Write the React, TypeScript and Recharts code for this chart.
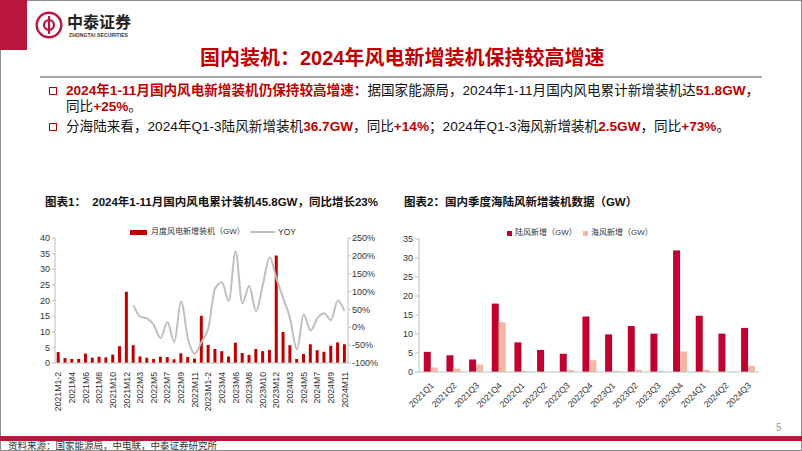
import React from "react";
import { ComposedChart, BarChart, Bar, Line, XAxis, YAxis } from "recharts";

// ---------- Chart 1 data ----------
const monthLabels = [
  "2021M1-2", "2021M3", "2021M4", "2021M5", "2021M6", "2021M7", "2021M8", "2021M9", "2021M10", "2021M11", "2021M12",
  "2022M1-2", "2022M3", "2022M4", "2022M5", "2022M6", "2022M7", "2022M8", "2022M9", "2022M10", "2022M11", "2022M12",
  "2023M1-2", "2023M3", "2023M4", "2023M5", "2023M6", "2023M7", "2023M8", "2023M9", "2023M10", "2023M11", "2023M12",
  "2024M1-2", "2024M3", "2024M4", "2024M5", "2024M6", "2024M7", "2024M8", "2024M9", "2024M10", "2024M11",
];
const monthlyAdds = [
  3.5, 1.6, 1.3, 1.3, 3.0, 1.7, 2.0, 1.8, 2.7, 5.4, 22.8,
  5.7, 2.1, 1.7, 1.3, 2.0, 1.9, 1.2, 3.1, 1.9, 1.4, 15.1,
  5.8, 4.5, 3.8, 2.1, 6.5, 3.2, 2.6, 4.5, 3.8, 4.2, 34.4,
  9.9, 5.7, 1.3, 2.9, 6.0, 4.1, 3.6, 5.5, 6.6, 6.0,
];
const yoyPct: (number | null)[] = [
  null, null, null, null, null, null, null, null, null, null, null,
  62, 30, 25, 6, -30, 15, -41, 72, -31, -74, -41,
  -3, 109, 126, 74, 212, 67, 116, 45, 119, 196, 137,
  81, 25, -62, 36, -9, 25, 39, 20, 75, 45,
];
const leftTicks = [0, 5, 10, 15, 20, 25, 30, 35, 40];
const rightTicks = [-100, -50, 0, 50, 100, 150, 200, 250];

// ---------- Chart 2 data ----------
const quarterLabels = [
  "2021Q1", "2021Q2", "2021Q3", "2021Q4", "2022Q1", "2022Q2", "2022Q3", "2022Q4",
  "2023Q1", "2023Q2", "2023Q3", "2023Q4", "2024Q1", "2024Q2", "2024Q3",
];
const onshoreAdds = [5.3, 4.4, 3.3, 18.0, 7.8, 5.8, 4.8, 14.6, 9.9, 12.1, 10.1, 32.0, 14.8, 10.1, 11.6];
const offshoreAdds = [1.2, 0.9, 2.0, 13.1, 0.2, 0.0, 0.5, 3.1, 0.3, 0.6, 0.3, 5.4, 0.6, 0.0, 1.6];
const q2Ticks = [0, 5, 10, 15, 20, 25, 30, 35];

const monthData = monthLabels.map((m, i) => ({ m, adds: monthlyAdds[i], yoy: yoyPct[i] }));
const quarterData = quarterLabels.map((q, i) => ({ q, on: onshoreAdds[i], off: offshoreAdds[i] }));

const RED = "#B8163C";
const FONT = "'Liberation Sans', Arial, 'Noto Sans CJK SC', sans-serif";
const tickStyle = { fontSize: 9, fill: "#333", fontFamily: FONT };

const MonthTick = (props: any) => {
  const { x, y, payload } = props;
  const ty = y + 1;
  return (
    <text x={x} y={ty} transform={`rotate(-90 ${x} ${ty})`} textAnchor="end" dominantBaseline="central"
      fontSize={8.7} fill="#333" fontFamily={FONT}>
      {payload.value}
    </text>
  );
};

const QuarterTick = (props: any) => {
  const { x, y, payload } = props;
  const tx = x + 2;
  const ty = y + 4;
  return (
    <text x={tx} y={ty} transform={`rotate(-45 ${tx} ${ty})`} textAnchor="end" dominantBaseline="central"
      fontSize={8.7} fill="#333" fontFamily={FONT}>
      {payload.value}
    </text>
  );
};

const abs = (l: number, t: number, extra: any = {}) => ({ position: "absolute" as const, left: l, top: t, ...extra });

const R = ({ children }: any) => <span style={{ color: "#C00000", fontWeight: 700 }}>{children}</span>;

export default function App() {
  return (
    <div style={{ position: "absolute", left: 0, top: 0, width: 802, height: 451, background: "#fff", overflow: "hidden", fontFamily: FONT }}>
      {/* slide border */}
      <div style={abs(0, 0, { width: 800, height: 449, border: "1px solid #8c8c8c" })} />
      {/* left red block */}
      <div style={abs(0, 0, { width: 27, height: 50, background: RED })} />
      {/* logo */}
      <svg style={abs(35, 11)} width={28} height={28} viewBox="0 0 28 28">
        <circle cx={14} cy={14} r={12.3} fill="#fff" stroke={RED} strokeWidth={2.4} />
        <path d="M14 5 V23" stroke={RED} strokeWidth={2.2} />
        <path d="M14 9 a5 5 0 1 0 0 10" fill="none" stroke={RED} strokeWidth={2.2} />
        <path d="M14 9 a5 5 0 1 1 0 10" fill="none" stroke={RED} strokeWidth={2.2} />
      </svg>
      <div style={abs(67, 12, { fontSize: 16, fontWeight: 700, color: "#222", fontFamily: "'Noto Sans CJK SC', sans-serif", lineHeight: "18px", height: 18, whiteSpace: "nowrap" })}>中泰证券</div>
      <div style={abs(69, 32, { fontSize: 5, fontWeight: 700, color: "#333", lineHeight: "6px", whiteSpace: "nowrap", letterSpacing: 0.1 })}>ZHONGTAI SECURITIES</div>

      {/* main title */}
      <div style={abs(200, 46, { fontSize: 20, fontWeight: 700, color: "#C00000", lineHeight: "24px", whiteSpace: "nowrap" })}>
        国内装机：2024年风电新增装机保持较高增速
      </div>
      <div style={abs(40, 76, { width: 722, height: 1.5, background: "#A6A6A6" })} />

      {/* bullets */}
      <div style={abs(49, 87, { width: 6, height: 6, border: "1.5px solid #C00000" })} />
      <div style={abs(49, 123, { width: 6, height: 6, border: "1.5px solid #C00000" })} />
      <div style={abs(66, 83, { fontSize: 13.6, lineHeight: "16px", color: "#111", whiteSpace: "nowrap" })}>
        <R>2024年1-11月国内风电新增装机仍保持较高增速：</R>据国家能源局，2024年1-11月国内风电累计新增装机达<R>51.8GW</R>，
      </div>
      <div style={abs(66, 99, { fontSize: 13.6, lineHeight: "16px", color: "#111", whiteSpace: "nowrap" })}>
        同比<R>+25%</R>。
      </div>
      <div style={abs(66, 119, { fontSize: 13.6, lineHeight: "16px", color: "#111", whiteSpace: "nowrap" })}>
        分海陆来看，2024年Q1-3陆风新增装机<R>36.7GW</R>，同比<R>+14%</R>；2024年Q1-3海风新增装机<R>2.5GW</R>，同比<R>+73%</R>。
      </div>

      {/* chart titles */}
      <div style={abs(45, 195, { fontSize: 11.5, fontWeight: 700, color: "#111", lineHeight: "14px", whiteSpace: "nowrap" })}>
        图表1：&nbsp;&nbsp;2024年1-11月国内风电累计装机45.8GW，同比增长23%
      </div>
      <div style={abs(404, 195, { fontSize: 11.5, fontWeight: 700, color: "#111", lineHeight: "14px", whiteSpace: "nowrap" })}>
        图表2：国内季度海陆风新增装机数据（GW）
      </div>

      {/* legend chart 1 */}
      <div style={abs(130, 230, { width: 17, height: 5, background: "#C00000" })} />
      <div style={abs(151, 227, { fontSize: 8, lineHeight: "10px", color: "#333", whiteSpace: "nowrap" })}>月度风电新增装机（GW）</div>
      <div style={abs(250, 231, { width: 25, height: 2, background: "#BFBFBF" })} />
      <div style={abs(278, 227, { fontSize: 8.5, lineHeight: "10px", color: "#333", whiteSpace: "nowrap" })}>YOY</div>

      {/* legend chart 2 */}
      <div style={abs(507, 231, { width: 5, height: 5, background: "#C0002F" })} />
      <div style={abs(515, 228, { fontSize: 8, lineHeight: "10px", color: "#333", whiteSpace: "nowrap" })}>陆风新增（GW）</div>
      <div style={abs(583, 231, { width: 5, height: 5, background: "#F5B7A6" })} />
      <div style={abs(591, 228, { fontSize: 8, lineHeight: "10px", color: "#333", whiteSpace: "nowrap" })}>海风新增（GW）</div>

      {/* chart 1 */}
      <div style={abs(0, 214)}>
        <ComposedChart width={400} height={199} data={monthData} margin={{ top: 24, right: 0, bottom: 0, left: 0 }} barCategoryGap="25%">
          <XAxis dataKey="m" interval={1} tick={<MonthTick />} tickLine={false} axisLine={{ stroke: "#BFBFBF" }} height={50} />
          <YAxis yAxisId="left" domain={[0, 40]} ticks={leftTicks} width={55} tick={tickStyle} tickSize={3} tickMargin={2}
            axisLine={{ stroke: "#BFBFBF" }} tickLine={{ stroke: "#BFBFBF" }} interval={0} />
          <YAxis yAxisId="right" orientation="right" domain={[-100, 250]} ticks={rightTicks} width={52} tick={tickStyle}
            tickSize={3} tickMargin={1} tickFormatter={(v: number) => `${v}%`} axisLine={{ stroke: "#BFBFBF" }} tickLine={{ stroke: "#BFBFBF" }} interval={0} />
          <Bar yAxisId="left" dataKey="adds" fill="#C00000" isAnimationActive={false} />
          <Line yAxisId="right" dataKey="yoy" type="monotone" stroke="#BFBFBF" strokeWidth={2} dot={false} isAnimationActive={false} />
        </ComposedChart>
      </div>

      {/* chart 2 */}
      <div style={abs(400, 215)}>
        <BarChart width={400} height={197} data={quarterData} margin={{ top: 24, right: 41, bottom: 0, left: 0 }} barCategoryGap="21%" barGap={0}>
          <XAxis dataKey="q" interval={0} tick={<QuarterTick />} tickLine={false} axisLine={{ stroke: "#BFBFBF" }} height={40} />
          <YAxis domain={[0, 35]} ticks={q2Ticks} width={19} tick={tickStyle} tickSize={4} tickMargin={2}
            axisLine={{ stroke: "#BFBFBF" }} tickLine={{ stroke: "#BFBFBF" }} interval={0} />
          <Bar dataKey="on" fill="#C0002F" isAnimationActive={false} />
          <Bar dataKey="off" fill="#F5B7A6" isAnimationActive={false} />
        </BarChart>
      </div>

      {/* footer */}
      <div style={abs(776, 422, { fontSize: 10, lineHeight: "12px", color: "#999" })}>5</div>
      <div style={abs(0, 436, { width: 802, height: 5, background: RED })} />
      <div style={abs(8, 440, { fontSize: 9.5, lineHeight: "11px", color: "#333", whiteSpace: "nowrap", fontFamily: "'Noto Sans CJK SC', sans-serif" })}>
        资料来源：国家能源局，中电联，中泰证券研究所
      </div>
    </div>
  );
}
